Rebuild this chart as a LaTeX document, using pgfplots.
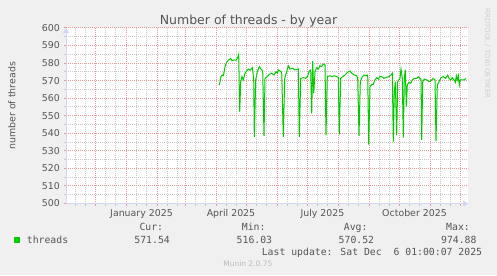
\documentclass[border=0pt]{standalone}
\usepackage{pgfplots}
\pgfplotsset{compat=1.18}
\usepackage{fontspec}
\setmainfont{DejaVu Sans}
\newfontfamily\monofont{DejaVu Sans Mono}
\usetikzlibrary{arrows.meta}
\definecolor{bgcol}{HTML}{F0F0F0}
\definecolor{gridred}{HTML}{E89A9A}
\definecolor{gridgrey}{HTML}{C8C8C8}
\definecolor{axiscol}{HTML}{CFD6F8}
\definecolor{txt}{HTML}{555555}
\definecolor{linegreen}{HTML}{00CC00}
\definecolor{faint}{HTML}{BBBBBB}
\definecolor{fainter}{HTML}{D0D0D0}
\begin{document}
\begin{tikzpicture}[x=1bp,y=1bp]
\fill[bgcol] (0,0) rectangle (497,275);
\useasboundingbox (0,0) rectangle (497,275);
\begin{axis}[
  at={(66bp,71.5bp)}, anchor=south west,
  scale only axis, width=402bp, height=175.5bp,
  xmin=-60, xmax=342, ymin=500, ymax=600,
  axis x line=bottom, axis y line=left,
  axis line style={draw=axiscol, line width=1bp, -{Triangle[width=6bp,length=5bp]}},
  axis background/.style={fill=white},
  xtick={-31,0,31,59,90,120,151,181,212,243,273,304,334},
  minor xtick={-51,-41,-21,-11,10,20,41,51,69,79,100,110,130,140,161,171,191,201,222,232,253,263,283,293,314,324},
  xticklabels={},
  extra x ticks={15.5,105,196.5,288.5},
  extra x tick labels={January 2025,April 2025,July 2025,October 2025},
  extra x tick style={grid=none, major tick length=0pt},
  ytick={500,510,...,600},
  minor ytick={505,515,...,595},
  grid=both,
  major grid style={draw=gridred, line width=1bp, dash pattern=on 1bp off 1bp},
  minor grid style={draw=gridgrey, line width=1bp, dash pattern=on 1bp off 1bp},
  tick align=outside,
  major tick length=2bp, minor tick length=2bp,
  major tick style={draw=gridred, line width=1bp},
  minor tick style={draw=gridgrey, line width=1bp},
  /pgf/number format/assume math mode=true,
  ticklabel style={font=\fontsize{9.4bp}{11bp}\selectfont, text=txt},
  yticklabel style={anchor=east, inner sep=0pt, xshift=-4bp},
  xticklabel style={anchor=base, inner sep=0pt, yshift=-12.5bp},
  clip=true,
]
\addplot[linegreen, line width=1bp] coordinates {
(93.3,567.5)(95,572.3)(96.3,573.2)(97.5,573)(99,578)(100.7,580.5)(103,582)(104.7,582.7)
(106,581.4)(108,581.8)(110,581.6)(111.7,583.1)(112.7,585)(113.7,552.3)(114.7,569.4)
(116,572.3)(117.3,570.4)(119,574.2)(120.7,575.5)(122.3,576.6)(124,575.9)(126.3,577.4)
(127.7,571.3)(128.3,538)(129.7,570.4)(131.3,575.1)(133.3,578)(135,576.6)(136.7,575.5)
(138,538.6)(139,571.3)(141.3,572.3)(143.3,573.6)(145.7,574.2)(148,573.2)(150,575.1)
(151.3,574.2)(152.3,576.1)(154,575.5)(155.7,574.8)(157.3,538)(158.7,571.3)(160.7,575.1)
(162.3,578.5)(164,576.6)(166.7,577)(169,576.1)(171.3,576.5)(172.3,576.6)(173.3,538)
(174.7,571.3)(177.3,571.7)(179.7,571.3)(181.7,572.6)(183.3,575.5)(184.7,576.1)(185.7,551.4)
(186.7,581.2)(187.7,562.8)(189,575.1)(190.7,577.4)(192.3,576.6)(194,578.5)(195.7,578)
(197.3,579.5)(199,578.9)(200,539)(201.3,572.3)(204,572.8)(206.3,572.3)(208.3,572.8)
(210.7,572.3)(212.3,571.9)(213.3,539.4)(214.7,571.3)(216.7,572.3)(219,573.2)(220.7,574.2)
(222.3,575.1)(224,575.5)(225.7,574.2)(228.3,573.2)(230.7,572.8)(231.7,571.3)(233,538.6)
(234.3,569.4)(236.3,572.3)(238,573.2)(240,572.8)(241.7,573.2)(242.7,533.5)(244,566.6)
(245.7,567.9)(247.3,567.9)(249,570.4)(250.7,571.7)(252.3,570.9)(254,572.3)(255.7,572.3)
(258,571.3)(260.7,571.9)(263,572.3)(264.7,573.2)(266.3,574.2)(267.3,535.2)(268.3,563.7)
(269.3,569.4)(270.7,539)(271.7,569.4)(272.7,570.4)(274,571.3)(275,576.6)(276.3,571.3)
(277.3,537.5)(278.3,571.3)(279.3,576.1)(280.3,555.2)(281.3,567.5)(282.7,569)(284.7,568.5)
(286.3,570.4)(288.3,571.3)(290.7,571.3)(292.3,572.3)(294,571.3)(295,570.4)(295.7,536.2)
(296.7,569.4)(298.3,570.9)(300.7,570.4)(303,569.4)(305,570)(307.3,571.3)(309,570.4)
(310,535.6)(311.3,567.5)(313,569.4)(315,571.7)(317.3,572.3)(319.7,571.3)(321.7,573.2)
(323,571.3)(324.7,570.4)(326.3,571.7)(328,570.4)(329.3,569)(330.3,572.8)(331.3,570.4)
(332.3,572.8)(333.3,567.5)(334.3,570.4)(336.7,570.4)(338.3,570.4)(339.7,571.3)
};
\end{axis}
% title
\node[anchor=base, inner sep=0pt, text=txt, font=\fontsize{12.5bp}{14bp}\selectfont] at (248.5,251) {Number of threads - by year};
% y label
\node[anchor=base, rotate=90, inner sep=0pt, text=txt, font=\fontsize{9.4bp}{11bp}\selectfont] at (15.3,169.2) {number of threads};
% vertical credit
\node[rotate=-90, inner sep=0pt, text=fainter, font=\fontsize{7bp}{8bp}\selectfont] at (487.5,221.5) {RRDTOOL / TOBI OETIKER};
% legend
\fill[linegreen] (14,32) rectangle (20,38);
\begin{scope}[every node/.style={inner sep=0pt, text=txt, font=\monofont\fontsize{9.8bp}{11bp}\selectfont}]
\node[anchor=base west] at (26.7,31.5) {threads};
\node[anchor=base east] at (163.3,44.2) {Cur:};
\node[anchor=base east] at (170,31.5) {571.54};
\node[anchor=base east] at (265.7,44.2) {Min:};
\node[anchor=base east] at (272.3,31.5) {516.03};
\node[anchor=base east] at (367.7,44.2) {Avg:};
\node[anchor=base east] at (374.3,31.5) {570.52};
\node[anchor=base east] at (470,44.2) {Max:};
\node[anchor=base east] at (476.7,31.5) {974.88};
\node[anchor=base east] at (482.3,20) {Last update: Sat Dec\ \ 6 01:00:07 2025};
\end{scope}
\node[anchor=base, inner sep=0pt, text=faint, font=\fontsize{7.5bp}{9bp}\selectfont] at (247.8,8.7) {Munin 2.0.75};
\end{tikzpicture}
\end{document}
